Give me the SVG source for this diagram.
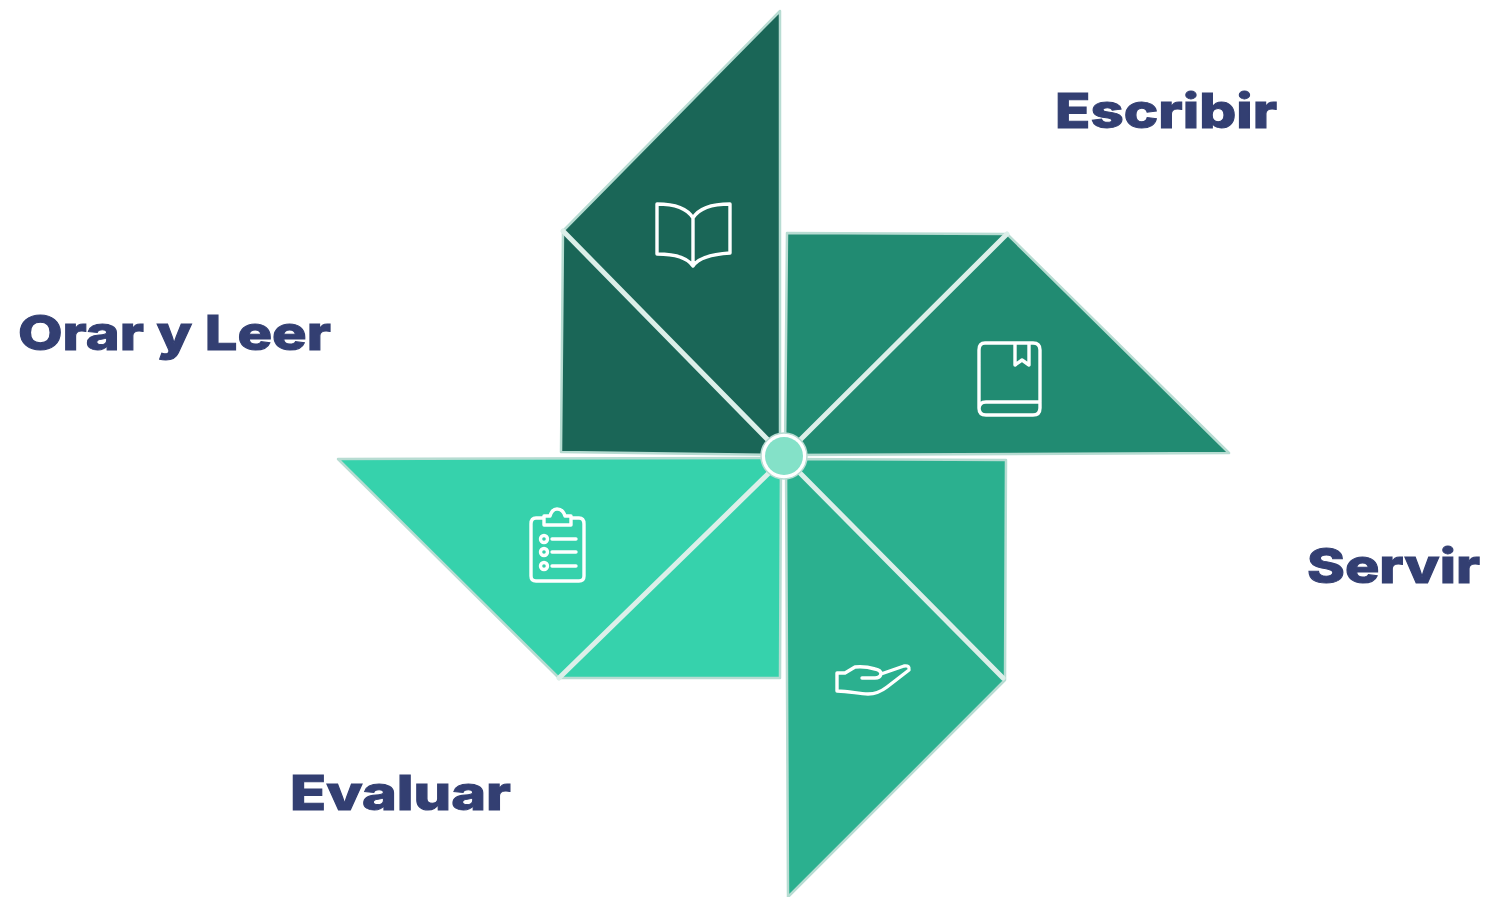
<svg xmlns="http://www.w3.org/2000/svg" width="1485" height="897" viewBox="0 0 1485 897">
<style>
.blade{stroke:#b7dcd2;stroke-width:2.5;stroke-linejoin:round}
.fold{stroke:#dcefe9;stroke-width:5;stroke-linecap:round;fill:none}
.icon{fill:none;stroke:#fff;stroke-width:3.4;stroke-linecap:round;stroke-linejoin:round}
.label{font-family:"Inter","Liberation Sans",sans-serif;font-weight:800;font-size:48px;fill:#333f72;stroke:#333f72;stroke-width:1}
</style>
<rect width="1485" height="897" fill="#fff"/>
<g id="blade-orar">
<polygon class="blade" fill="#1a6657" points="780,11 563,231 561,452 780,455"/>
<line class="fold" x1="563" y1="231" x2="770" y2="442"/>
<path class="icon" d="M657,204V254C673,254 687,257 693,266C699,257 714,254 730,253V204C714,204 699,208 693,218C687,208 673,204 657,204ZM693,218V266"/>
<text class="label" x="18" y="350" textLength="313" lengthAdjust="spacingAndGlyphs">Orar y Leer</text>
</g>
<g id="blade-escribir">
<polygon class="blade" fill="#218b72" points="787,233 1007,234 1229,453 785,455"/>
<line class="fold" x1="1007" y1="234" x2="798" y2="442"/>
<path class="icon" d="M985,343H1033Q1040,343 1040,350V408Q1040,415 1033,415H986Q979,415 979,408V350Q979,343 985,343ZM979,409Q979,402 986,402H1040M1015,343V365L1022,360L1029,365V343"/>
<text class="label" x="1055" y="128" textLength="222" lengthAdjust="spacingAndGlyphs">Escribir</text>
</g>
<g id="blade-servir">
<polygon class="blade" fill="#2bb08f" points="1006,460 1005,680 788,897 786,459"/>
<line class="fold" x1="1003" y1="678" x2="798" y2="471"/>
<path class="icon" d="M837,673H845L855,667Q865,666 875,669Q881,670 881,674L904,666Q910,665 909,670L887,687Q878,694 868,694C858,694 850,691 837,691ZM881,674Q880,678 875,678H862"/>
<text class="label" x="1307" y="583" textLength="173" lengthAdjust="spacingAndGlyphs">Servir</text>
</g>
<g id="blade-evaluar">
<polygon class="blade" fill="#36d2ac" points="338,459 559,678 780,678 781,458"/>
<line class="fold" x1="559" y1="678" x2="771" y2="471"/>
<path class="icon" d="M544,518H536Q531,518 531,524V576Q531,581 536,581H579Q584,581 584,576V524Q584,518 579,518H571M544,525V516H550Q552,509 557,509Q563,509 565,516H571V525ZM552,539H576M552,552H576M552,566H576"/>
<circle class="icon" cx="544" cy="539" r="3.5"/>
<circle class="icon" cx="544" cy="552" r="3.5"/>
<circle class="icon" cx="544" cy="566" r="3.5"/>
<text class="label" x="290" y="810" textLength="221" lengthAdjust="spacingAndGlyphs">Evaluar</text>
</g>
<g id="hub">
<circle cx="784" cy="456" r="23" fill="#fff" stroke="#b7dcd2" stroke-width="1.5"/>
<circle cx="784" cy="456" r="19" fill="#84e1c8"/>
</g>
</svg>
